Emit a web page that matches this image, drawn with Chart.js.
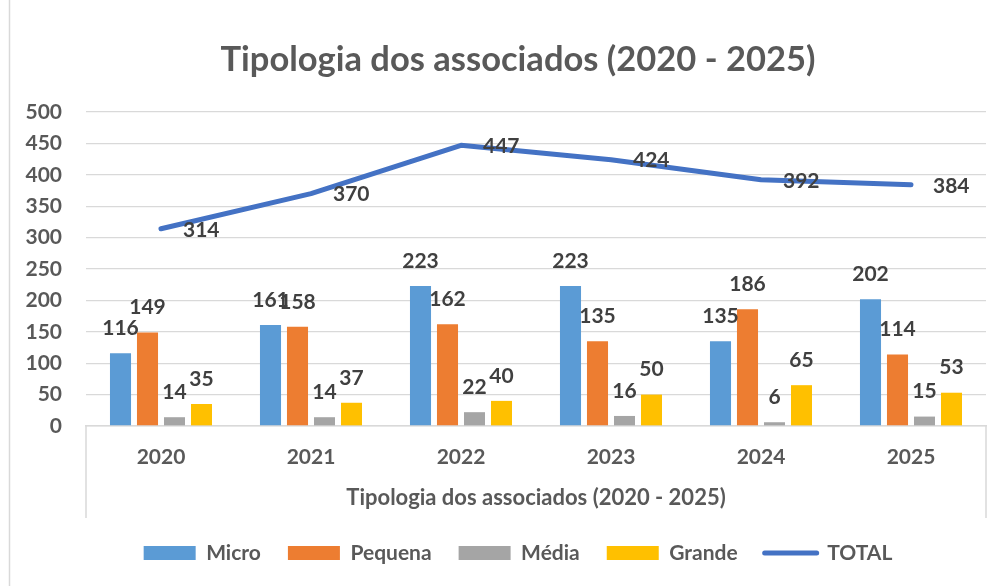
<!DOCTYPE html>
<html>
<head>
<meta charset="utf-8">
<script src="https://cdn.jsdelivr.net/npm/chart.js@4/dist/chart.umd.min.js"></script>
<style>
html, body { margin: 0; padding: 0; background: #fff; }
</style>
</head>
<body>
<canvas id="myChart" width="1001" height="586"></canvas>
<script>
var anos = ["2020", "2021", "2022", "2023", "2024", "2025"];
var micro = [116, 161, 223, 223, 135, 202];
var pequena = [149, 158, 162, 135, 186, 114];
var media = [14, 14, 22, 16, 6, 15];
var grande = [35, 37, 40, 50, 65, 53];
var total = [314, 370, 447, 424, 392, 384];
var titulo = "Tipologia dos associados (2020 - 2025)";

var fonte = "Lato, 'Open Sans', sans-serif";
var corTexto = "#595959";
var corRotulo = "#404040";

// rotulos de dados (valores) por cima das barras e ao lado da linha
var rotulosPlugin = {
    id: "rotulos",
    afterLayout: function (chart) {
        // deixa espaco para os numeros do eixo y nao serem cortados
        chart.scales.y.left = 12;
    },
    afterDatasetsDraw: function (chart) {
        var ctx = chart.ctx;
        ctx.save();
        ctx.font = "bold 21px " + fonte;
        ctx.fillStyle = corRotulo;
        ctx.textBaseline = "middle";
        chart.data.datasets.forEach(function (ds, i) {
            var meta = chart.getDatasetMeta(i);
            meta.data.forEach(function (el, j) {
                if (ds.type === "line") {
                    ctx.textAlign = "left";
                    ctx.fillText(ds.data[j], el.x + 22, el.y + 1);
                } else {
                    ctx.textAlign = "center";
                    ctx.fillText(ds.data[j], el.x, el.y - 25);
                }
            });
        });
        ctx.restore();
    }
};

// moldura do grafico e caixa do eixo x
var molduraPlugin = {
    id: "moldura",
    afterDraw: function (chart) {
        var ctx = chart.ctx;
        var a = chart.chartArea;
        ctx.save();
        ctx.strokeStyle = "#d9d9d9";
        ctx.lineWidth = 1.5;
        ctx.beginPath();
        ctx.moveTo(9.5, 0);
        ctx.lineTo(9.5, chart.height);
        ctx.moveTo(a.left, a.bottom);
        ctx.lineTo(a.left, a.bottom + 92);
        ctx.moveTo(a.right, a.bottom);
        ctx.lineTo(a.right, a.bottom + 92);
        ctx.stroke();
        ctx.restore();
    }
};

function init_chart() {
    var ctx = document.getElementById("myChart").getContext("2d");
    window.myChart = new Chart(ctx, {
        type: "bar",
        data: {
            labels: anos,
            datasets: [
                { type: "bar", label: "Micro", data: micro, backgroundColor: "#5B9BD5" },
                { type: "bar", label: "Pequena", data: pequena, backgroundColor: "#ED7D31" },
                { type: "bar", label: "Média", data: media, backgroundColor: "#A5A5A5" },
                { type: "bar", label: "Grande", data: grande, backgroundColor: "#FFC000" },
                {
                    type: "line",
                    label: "TOTAL",
                    data: total,
                    borderColor: "#4472C4",
                    backgroundColor: "#4472C4",
                    borderWidth: 5,
                    pointRadius: 0,
                    tension: 0,
                    fill: false,
                    borderCapStyle: "round",
                    borderJoinStyle: "round"
                }
            ]
        },
        options: {
            responsive: false,
            animation: false,
            categoryPercentage: 0.72,
            barPercentage: 0.78,
            layout: { padding: { left: 50, right: 15, top: 0, bottom: 12.5 } },
            scales: {
                x: {
                    grid: { display: false },
                    border: { display: true, color: "#d9d9d9", width: 1.5 },
                    ticks: { color: corTexto, padding: 11, font: { family: fonte, size: 21, weight: "bold" } },
                    title: {
                        display: true,
                        text: titulo,
                        color: corTexto,
                        padding: { top: 0, bottom: 4 },
                        font: { family: fonte, size: 22, weight: "bold" }
                    },
                    afterFit: function (scale) { scale.height = 89.5; }
                },
                y: {
                    min: 0,
                    max: 500,
                    ticks: { stepSize: 50, color: corTexto, padding: 24, font: { family: fonte, size: 21, weight: "bold" } },
                    grid: { color: "#d9d9d9", lineWidth: 1.3, drawTicks: false },
                    border: { display: false },
                    afterFit: function (scale) { scale.width = 36; }
                }
            },
            plugins: {
                title: {
                    display: true,
                    text: titulo,
                    color: corTexto,
                    font: { family: fonte, size: 34.5, weight: "bold" },
                    padding: { top: 39, bottom: 31.6 }
                },
                legend: {
                    position: "bottom",
                    labels: {
                        color: corTexto,
                        font: { family: fonte, size: 21, weight: "bold" },
                        usePointStyle: true,
                        pointStyleWidth: 52,
                        boxHeight: 14,
                        padding: 27,
                        generateLabels: function (chart) {
                            return chart.data.datasets.map(function (ds, i) {
                                var linha = ds.type === "line";
                                return {
                                    text: ds.label,
                                    fillStyle: ds.backgroundColor,
                                    strokeStyle: ds.borderColor || ds.backgroundColor,
                                    lineWidth: linha ? 5 : 0,
                                    lineCap: "round",
                                    pointStyle: linha ? "line" : "rect",
                                    fontColor: corTexto,
                                    hidden: !chart.isDatasetVisible(i),
                                    datasetIndex: i
                                };
                            });
                        }
                    }
                },
                tooltip: { enabled: false }
            }
        },
        plugins: [rotulosPlugin, molduraPlugin]
    });
}

init_chart();
</script>
</body>
</html>
